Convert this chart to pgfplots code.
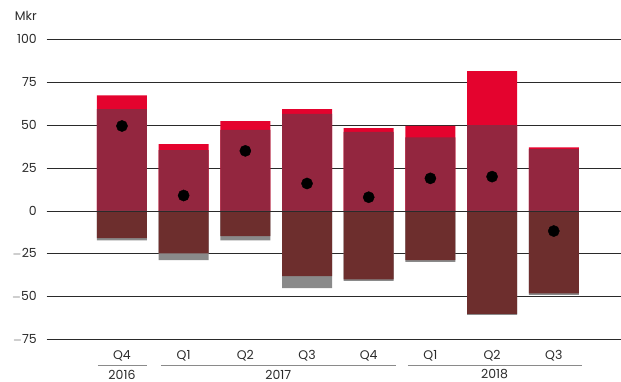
\documentclass[border=0pt]{standalone}
\usepackage{pgfplots}
\pgfplotsset{compat=1.18}
\usepackage{fontspec}
\setmainfont{Poppins}
\definecolor{cRed}{HTML}{E4032E}
\definecolor{cWine}{HTML}{93263F}
\definecolor{cBrown}{HTML}{6D2E2D}
\definecolor{cGray}{HTML}{8A8A8A}
\definecolor{cGrid}{HTML}{2A2A2A}
\definecolor{cText}{HTML}{2B2B2B}
\begin{document}
\begin{tikzpicture}[x=1pt,y=1pt]
\useasboundingbox (0,0) rectangle (621,382);
\begin{axis}[
  at={(46.7pt,42.3pt)}, anchor=south west,
  scale only axis, width=574.3pt, height=300.4pt,
  xmin=-1.22, xmax=8.09, ymin=-75, ymax=100,
  axis line style={draw=none},
  major tick length=0pt,
  ytick={-75,-50,-25,0,25,50,75,100},
  yticklabels={$-$75,$-$50,$-$25,0,25,50,75,100},
  ymajorgrids, grid style={cGrid, line width=0.9pt},
  xtick={0,...,7},
  xticklabels={Q4,Q1,Q2,Q3,Q4,Q1,Q2,Q3},
  xticklabel style={anchor=center, inner sep=0pt, yshift=-15.8pt},
  yticklabel style={anchor=east, inner sep=0pt, xshift=-9.7pt},
  ticklabel style={font=\fontsize{12.5}{14}\selectfont, text=cText},
  /pgf/number format/assume math mode=true,
  ybar, bar width=50pt,
  clip=false,
]
% positive totals (red) and base (wine)
\addplot[fill=cRed, draw=none, bar shift=0pt] coordinates {
 (0,67.4) (1,38.9) (2,52.3) (3,59.3) (4,48.2) (5,49.5) (6,81.4) (7,37.1)};
\addplot[fill=cWine, draw=none, bar shift=0pt] coordinates {
 (0,59.3) (1,35.5) (2,47.2) (3,56.5) (4,46.0) (5,42.9) (6,50.0) (7,36.0)};
% negative totals (gray) and base (brown)
\addplot[fill=cGray, draw=none, bar shift=0pt] coordinates {
 (0,-17.1) (1,-28.7) (2,-17.1) (3,-44.9) (4,-40.8) (5,-29.7) (6,-60.6) (7,-48.9)};
\addplot[fill=cBrown, draw=none, bar shift=0pt] coordinates {
 (0,-15.9) (1,-24.7) (2,-14.7) (3,-38.0) (4,-39.8) (5,-28.7) (6,-60.0) (7,-48.0)};
\draw[cGrid, line width=0.9pt] (axis cs:-1.22,0) -- (axis cs:8.09,0);
% result dots
\addplot[only marks, mark=*, mark size=5.6pt, black, bar shift=0pt] coordinates {
 (0,49.5) (1,9) (2,35) (3,16) (4,8) (5,19) (6,20) (7,-11.7)};
% year groups
\draw[cGray, line width=1.5pt] ([yshift=-26pt]axis cs:-0.389,-75) -- ([yshift=-26pt]axis cs:0.405,-75);
\draw[cGray, line width=1.5pt] ([yshift=-26pt]axis cs:0.632,-75) -- ([yshift=-26pt]axis cs:4.436,-75);
\draw[cGray, line width=1.5pt] ([yshift=-26pt]axis cs:4.635,-75) -- ([yshift=-26pt]axis cs:7.45,-75);
\node[font=\fontsize{12.5}{14}\selectfont, text=cText, inner sep=0pt] at ([yshift=-34.8pt]axis cs:0,-75) {2016};
\node[font=\fontsize{12.5}{14}\selectfont, text=cText, inner sep=0pt] at ([yshift=-34.8pt]axis cs:2.534,-75) {2017};
\node[font=\fontsize{12.5}{14}\selectfont, text=cText, inner sep=0pt] at ([yshift=-34.8pt]axis cs:6.04,-75) {2018};
\node[font=\fontsize{12.5}{14}\selectfont, text=cText, inner sep=0pt, anchor=east] at ([xshift=-9.7pt,yshift=23pt]rel axis cs:0,1) {Mkr};
\end{axis}
\end{tikzpicture}
\end{document}
